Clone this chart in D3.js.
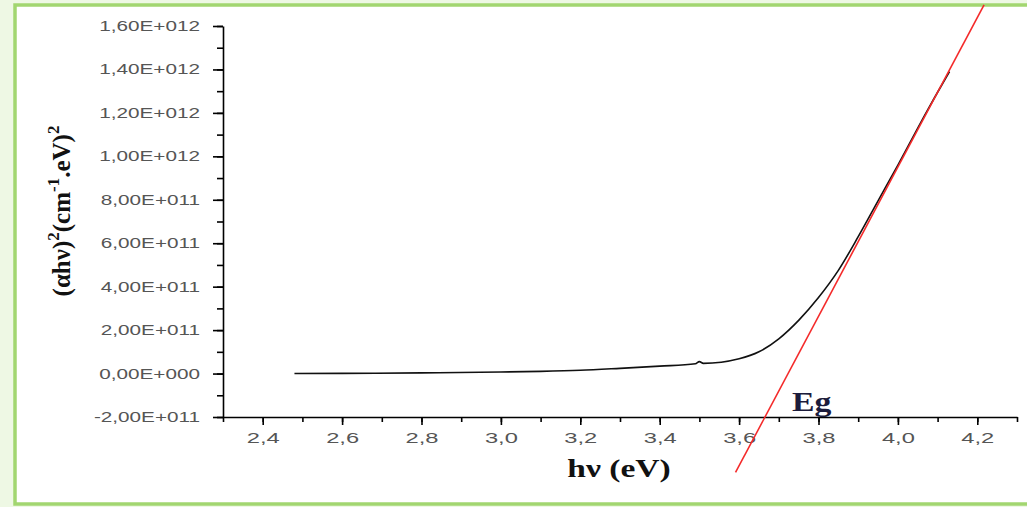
<!DOCTYPE html>
<html>
<head>
<meta charset="utf-8">
<script src="https://cdn.jsdelivr.net/npm/d3@7"></script>
<style>
  body { margin: 0; background: #fff; }
  svg { display: block; }
</style>
</head>
<body>
<svg id="chart" width="1027" height="507"></svg>
<script>
// measured curve (x = photon energy in eV, y = (ahv)^2 in units of 1e11)
const curveX = [2.48, 2.60, 2.80, 3.00, 3.10, 3.20, 3.30, 3.40, 3.49, 3.50, 3.51, 3.60, 3.65, 3.70, 3.75, 3.80, 3.85, 3.90, 3.95, 4.00, 4.05, 4.10, 4.13];
const curveY = [0.00, 0.01, 0.03, 0.07, 0.10, 0.15, 0.24, 0.34, 0.45, 0.55, 0.47, 0.68, 1.00, 1.60, 2.45, 3.50, 4.75, 6.30, 7.95, 9.60, 11.30, 12.95, 13.90];

// linear fit (red line) end points
const fitX = [3.591, 4.217];
const fitY = [-4.55, 16.97];

const xTicks = [2.4, 2.6, 2.8, 3.0, 3.2, 3.4, 3.6, 3.8, 4.0, 4.2];
const xTickLabels = ["2,4", "2,6", "2,8", "3,0", "3,2", "3,4", "3,6", "3,8", "4,0", "4,2"];
const yTicks = [-2, 0, 2, 4, 6, 8, 10, 12, 14, 16];
const yTickLabels = ["-2,00E+011", "0,00E+000", "2,00E+011", "4,00E+011", "6,00E+011", "8,00E+011",
                     "1,00E+012", "1,20E+012", "1,40E+012", "1,60E+012"];

const svg = d3.select("#chart");

// green frame around the figure
svg.append("rect").attr("x", 0).attr("y", 0).attr("width", 1027).attr("height", 507)
    .attr("fill", "#eef8e4");
svg.append("rect").attr("x", 15).attr("y", 5).attr("width", 1030).attr("height", 499)
    .attr("fill", "#fff").attr("stroke", "#a2d670").attr("stroke-width", 3.5);

const x = d3.scaleLinear().domain([2.3, 4.3]).range([223, 1017]);
const y = d3.scaleLinear().domain([-2, 16]).range([417, 26]);

const tickFont = "'Liberation Sans', Arial, sans-serif";
const serif = "'Liberation Serif', 'Times New Roman', serif";

// minor ticks
svg.append("g").attr("transform", "translate(0,417)")
    .call(d3.axisBottom(x).tickValues(d3.range(2.3, 4.35, 0.1)).tickSize(5).tickFormat("").tickSizeOuter(0))
    .call(g => g.select(".domain").remove());
svg.append("g").attr("transform", "translate(223,0)")
    .call(d3.axisLeft(y).tickValues(d3.range(-2, 16.5, 1)).tickSize(6).tickFormat("").tickSizeOuter(0))
    .call(g => g.select(".domain").remove());

// main axes
const xAxis = svg.append("g").attr("transform", "translate(0,417)")
    .call(d3.axisBottom(x).tickValues(xTicks).tickSize(8).tickSizeOuter(0)
        .tickFormat((d, i) => xTickLabels[i]));
xAxis.selectAll("text")
    .attr("y", null).attr("dy", null)
    .attr("transform", "translate(0,26) scale(1.58,1)")
    .attr("font-family", tickFont).attr("font-size", 15).attr("fill", "#555");

const yAxis = svg.append("g").attr("transform", "translate(223,0)")
    .call(d3.axisLeft(y).tickValues(yTicks).tickSize(10).tickSizeOuter(0)
        .tickFormat((d, i) => yTickLabels[i]));
yAxis.selectAll("text")
    .attr("x", null)
    .attr("transform", "translate(-23,0) scale(1.48,1)")
    .attr("font-family", tickFont).attr("font-size", 14).attr("fill", "#555");

svg.selectAll(".domain, .tick line").attr("stroke", "#000").attr("stroke-width", 1.6);

// data curve
const pts = curveX.map((v, i) => [v, curveY[i]]);
svg.append("path")
    .datum(pts)
    .attr("fill", "none")
    .attr("stroke", "#111")
    .attr("stroke-width", 1.6)
    .attr("d", d3.line().x(d => x(d[0])).y(d => y(d[1])).curve(d3.curveMonotoneX));

// tangent line
svg.append("path")
    .datum(fitX.map((v, i) => [v, fitY[i]]))
    .attr("fill", "none")
    .attr("stroke", "#f42a2a")
    .attr("stroke-width", 1.6)
    .attr("d", d3.line().x(d => x(d[0])).y(d => y(d[1])));

// Eg label
svg.append("text")
    .attr("transform", "translate(792,411) scale(1.25,1)")
    .attr("font-family", serif).attr("font-weight", "bold").attr("font-size", 27)
    .attr("fill", "#1c1c3c")
    .text("Eg");

// x title
svg.append("text")
    .attr("transform", "translate(619,477) scale(1.29,1)")
    .attr("text-anchor", "middle")
    .attr("font-family", serif).attr("font-weight", "bold").attr("font-size", 26)
    .attr("fill", "#111")
    .text("hν (eV)");

// y title
const yt = svg.append("text")
    .attr("transform", "translate(70,211) rotate(-90)")
    .attr("text-anchor", "middle")
    .attr("font-family", serif).attr("font-weight", "bold").attr("font-size", 25)
    .attr("fill", "#111");
yt.append("tspan").text("(αhν)");
yt.append("tspan").attr("font-size", 17).attr("dy", -11).text("2");
yt.append("tspan").attr("dy", 11).text("(cm");
yt.append("tspan").attr("font-size", 17).attr("dy", -11).text("-1");
yt.append("tspan").attr("dy", 11).text(".eV)");
yt.append("tspan").attr("font-size", 17).attr("dy", -11).text("2");
</script>
</body>
</html>
